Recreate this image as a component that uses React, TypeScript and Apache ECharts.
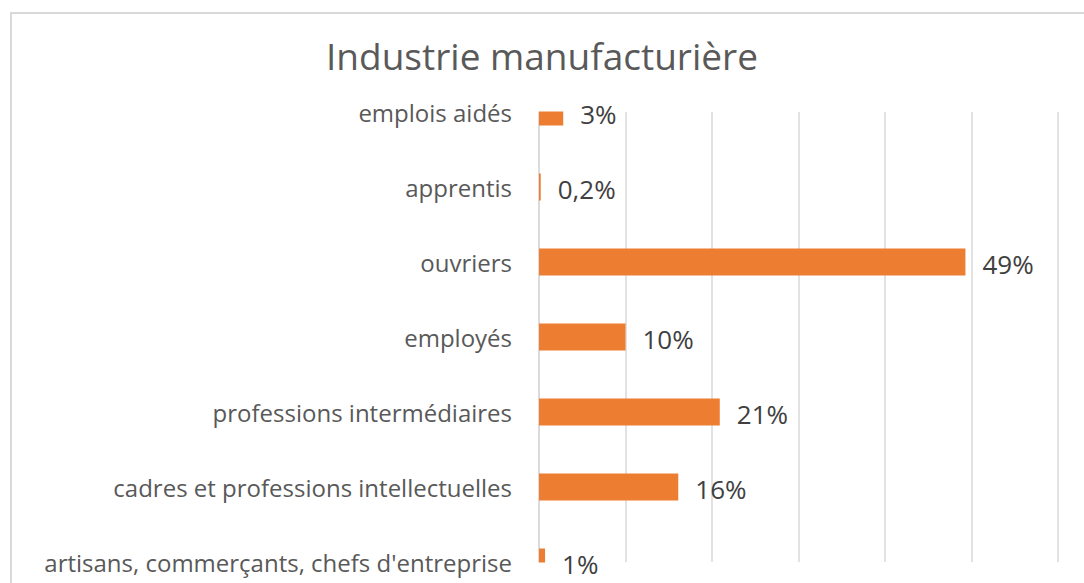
import React, { useEffect, useRef } from "react";
import * as echarts from "echarts";

const title = "Industrie manufacturière";
const categories = [
  "emplois aidés",
  "apprentis",
  "ouvriers",
  "employés",
  "professions intermédiaires",
  "cadres et professions intellectuelles",
  "artisans, commerçants, chefs d'entreprise",
];
const values = [2.8, 0.2, 49.3, 10, 20.9, 16.1, 0.7];
const valueLabels = ["3%", "0,2%", "49%", "10%", "21%", "16%", "1%"];

export default function App() {
  const ref = useRef<HTMLDivElement>(null);
  useEffect(() => {
    if (!ref.current) return;
    const chart = echarts.init(ref.current, undefined, { renderer: "svg" });
    chart.setOption({
      animation: false,
      backgroundColor: "#ffffff",
      title: {
        text: title,
        left: "center",
        top: 32,
        textStyle: {
          fontFamily: "Open Sans",
          fontSize: 37,
          fontWeight: "normal",
          color: "#595959",
        },
      },
      graphic: [
        {
          type: "rect",
          shape: { x: 11, y: 13, width: 1200, height: 800 },
          style: { fill: "none", stroke: "#d9d9d9", lineWidth: 2 },
          silent: true,
          z: 0,
        },
        {
          type: "rect",
          shape: { x: 537, y: 90, width: 30, height: 21.5 },
          style: { fill: "#ffffff" },
          silent: true,
          z: 100,
        },
        {
          type: "rect",
          shape: { x: 537, y: 562.5, width: 14, height: 30 },
          style: { fill: "#ffffff" },
          silent: true,
          z: 100,
        },
      ],
      grid: { left: 539, right: 26, top: 112, bottom: 21, containLabel: false },
      xAxis: {
        type: "value",
        min: 0,
        max: 60,
        interval: 10,
        axisLabel: { show: false },
        axisLine: { show: false },
        axisTick: { show: false },
        splitLine: { show: true, lineStyle: { color: "#d9d9d9", width: 1.5 } },
      },
      yAxis: {
        type: "category",
        data: categories,
        inverse: true,
        boundaryGap: false,
        axisLine: { show: true, lineStyle: { color: "#d9d9d9", width: 1.5 } },
        axisTick: { show: false },
        splitLine: { show: false },
        axisLabel: {
          margin: 27,
          fontFamily: "Open Sans",
          fontSize: 24,
          color: "#595959",
        },
      },
      series: [
        {
          type: "bar",
          data: values,
          barWidth: 27,
          itemStyle: { color: "#ED7D31" },
          label: {
            show: true,
            position: "right",
            distance: 17,
            fontFamily: "Open Sans",
            fontSize: 26,
            color: "#404040",
            offset: [0, 2],
            formatter: (p: any) => valueLabels[p.dataIndex],
          },
        },
      ],
    });
    return () => chart.dispose();
  }, []);
  return (
    <div
      ref={ref}
      style={{ position: "absolute", left: 0, top: 0, width: 1084, height: 583 }}
    />
  );
}
